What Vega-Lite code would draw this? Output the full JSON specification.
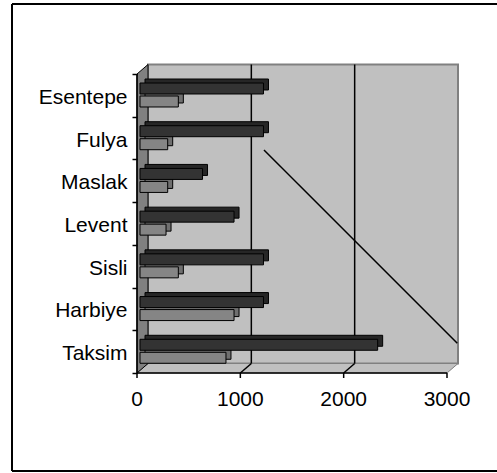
{
  "$schema": "https://vega.github.io/schema/vega-lite/v6.json",
  "width": 485,
  "height": 467,
  "autosize": {"type": "none"},
  "padding": {"left": 12, "top": 4, "right": 0, "bottom": 2},
  "background": "white",
  "config": {
    "view": {"stroke": null},
    "axis": {"labelFont": "Liberation Sans", "labelFontSize": 21, "labelColor": "black", "tickColor": "black", "grid": false, "title": null}
  },
  "datasets": {
    "sites": [
      {"site": "Esentepe", "seri1": 1195, "seri2": 371},
      {"site": "Fulya", "seri1": 1195, "seri2": 268},
      {"site": "Maslak", "seri1": 605, "seri2": 268},
      {"site": "Levent", "seri1": 910, "seri2": 252},
      {"site": "Sisli", "seri1": 1195, "seri2": 371},
      {"site": "Harbiye", "seri1": 1195, "seri2": 910},
      {"site": "Taksim", "seri1": 2300, "seri2": 832}
    ],
    "grid": [{"v": 1000}, {"v": 2000}],
    "xticks": [{"v": 0}, {"v": 1000}, {"v": 2000}, {"v": 3000}],
    "leftwall": [{"x": 0, "yb": 0, "yt": 7}, {"x": 106.45, "yb": 0.2224, "yt": 7.2224}],
    "floor": [{"y": 0, "xl": 0, "xr": 3000}, {"y": 0.2224, "xl": 106.45, "xr": 3106.45}]
  },
  "resolve": {"scale": {"y": "independent"}},
  "layer": [
    {
      "data": {"values": [{}]},
      "mark": {"type": "rect", "fill": "#c0c0c0", "stroke": "#808080", "strokeWidth": 2},
      "encoding": {
        "x": {"datum": 106.45, "type": "quantitative", "scale": {"domain": [-1209.7, 3483.9], "nice": false, "zero": false}, "axis": null},
        "x2": {"datum": 3106.45},
        "y": {"datum": 0.2224, "type": "quantitative", "scale": {"domain": [-2.294, 8.639], "nice": false, "zero": false}, "axis": null},
        "y2": {"datum": 7.2224}
      }
    },
    {
      "data": {"name": "floor"},
      "mark": {"type": "area", "orient": "horizontal", "fill": "#c0c0c0", "stroke": "#808080", "strokeWidth": 1},
      "encoding": {
        "y": {"field": "y", "type": "quantitative", "scale": {"domain": [-2.294, 8.639], "nice": false, "zero": false}, "axis": null},
        "x": {"field": "xl", "type": "quantitative", "scale": {"domain": [-1209.7, 3483.9], "nice": false, "zero": false}, "axis": null},
        "x2": {"field": "xr"}
      }
    },
    {
      "data": {"name": "leftwall"},
      "mark": {"type": "area", "orient": "vertical", "fill": "#808080", "stroke": "black", "strokeWidth": 1},
      "encoding": {
        "x": {"field": "x", "type": "quantitative", "scale": {"domain": [-1209.7, 3483.9], "nice": false, "zero": false}, "axis": null},
        "y": {"field": "yb", "type": "quantitative", "scale": {"domain": [-2.294, 8.639], "nice": false, "zero": false}, "axis": null},
        "y2": {"field": "yt"}
      }
    },
    {
      "data": {"name": "grid"},
      "mark": {"type": "rule", "color": "black", "strokeWidth": 1.5, "xOffset": 11},
      "encoding": {
        "x": {"field": "v", "type": "quantitative", "scale": {"domain": [-1209.7, 3483.9], "nice": false, "zero": false}, "axis": null},
        "y": {"datum": 0.2224, "type": "quantitative", "scale": {"domain": [-2.294, 8.639], "nice": false, "zero": false}, "axis": null},
        "y2": {"datum": 7.2224}
      }
    },
    {
      "data": {"name": "grid"},
      "mark": {"type": "rule", "color": "black", "strokeWidth": 1.5, "x2Offset": 11},
      "encoding": {
        "x": {"field": "v", "type": "quantitative", "scale": {"domain": [-1209.7, 3483.9], "nice": false, "zero": false}, "axis": null},
        "x2": {"field": "v"},
        "y": {"datum": 0, "type": "quantitative", "scale": {"domain": [-2.294, 8.639], "nice": false, "zero": false}, "axis": null},
        "y2": {"datum": 0.2224}
      }
    },
    {
      "data": {"values": [{}]},
      "mark": {"type": "rule", "color": "black", "strokeWidth": 1.5},
      "encoding": {
        "x": {"datum": 0, "type": "quantitative", "scale": {"domain": [-1209.7, 3483.9], "nice": false, "zero": false}, "axis": null},
        "y": {"datum": 0, "type": "quantitative", "scale": {"domain": [-2.294, 8.639], "nice": false, "zero": false}, "axis": null},
        "y2": {"datum": 7}
      }
    },
    {
      "data": {"values": [{}]},
      "mark": {"type": "rule", "color": "black", "strokeWidth": 1.5},
      "encoding": {
        "x": {"datum": 0, "type": "quantitative", "scale": {"domain": [-1209.7, 3483.9], "nice": false, "zero": false}, "axis": null},
        "x2": {"datum": 3000},
        "y": {"datum": 0, "type": "quantitative", "scale": {"domain": [-2.294, 8.639], "nice": false, "zero": false}, "axis": null}
      }
    },
    {
      "data": {"name": "xticks"},
      "mark": {"type": "rule", "color": "black", "strokeWidth": 1.5, "y2Offset": 5},
      "encoding": {
        "x": {"field": "v", "type": "quantitative", "scale": {"domain": [-1209.7, 3483.9], "nice": false, "zero": false}, "axis": null},
        "y": {"datum": 0, "type": "quantitative", "scale": {"domain": [-2.294, 8.639], "nice": false, "zero": false}, "axis": null},
        "y2": {"datum": 0}
      }
    },
    {
      "data": {"name": "xticks"},
      "mark": {"type": "text", "font": "Liberation Sans", "fontSize": 21, "color": "black", "align": "center", "baseline": "alphabetic", "yOffset": 33},
      "encoding": {
        "x": {"field": "v", "type": "quantitative", "scale": {"domain": [-1209.7, 3483.9], "nice": false, "zero": false}, "axis": null},
        "y": {"datum": 0, "type": "quantitative", "scale": {"domain": [-2.294, 8.639], "nice": false, "zero": false}, "axis": null},
        "text": {"field": "v", "type": "quantitative", "format": "d"}
      }
    },
    {
      "data": {"name": "sites"},
      "mark": {"type": "point", "opacity": 0},
      "encoding": {
        "y": {"field": "site", "type": "nominal", "sort": null,
              "scale": {"type": "band", "paddingInner": 0, "paddingOuter": 0, "range": [70, 369]},
              "axis": {"orient": "left", "offset": -125, "domain": false, "tickBand": "extent", "tickSize": 5, "tickWidth": 1.5, "labelPadding": 5, "labelOffset": 2, "zindex": 1}},
        "x": {"field": "seri1", "type": "quantitative", "scale": {"domain": [-1209.7, 3483.9], "nice": false, "zero": false}, "axis": null}
      }
    },
    {
      "data": {"name": "sites"},
      "mark": {"type": "bar", "fill": "#6f6f6f", "stroke": "black", "strokeWidth": 1, "xOffset": 8, "x2Offset": 8, "yOffset": -4, "y2Offset": -4},
      "encoding": {
        "y": {"field": "site", "type": "nominal", "sort": null, "scale": {"type": "band", "paddingInner": 0.7425, "paddingOuter": 0, "range": [92, 359.28]}, "axis": null},
        "x": {"field": "seri2", "type": "quantitative", "scale": {"domain": [-1209.7, 3483.9], "nice": false, "zero": false}, "axis": null},
        "x2": {"datum": 0}
      }
    },
    {
      "data": {"name": "sites"},
      "mark": {"type": "bar", "fill": "#858585", "stroke": "black", "strokeWidth": 1, "xOffset": 3, "x2Offset": 3},
      "encoding": {
        "y": {"field": "site", "type": "nominal", "sort": null, "scale": {"type": "band", "paddingInner": 0.7425, "paddingOuter": 0, "range": [92, 359.28]}, "axis": null},
        "x": {"field": "seri2", "type": "quantitative", "scale": {"domain": [-1209.7, 3483.9], "nice": false, "zero": false}, "axis": null},
        "x2": {"datum": 0}
      }
    },
    {
      "data": {"name": "sites"},
      "mark": {"type": "bar", "fill": "#262626", "stroke": "black", "strokeWidth": 1, "xOffset": 8, "x2Offset": 8, "yOffset": -4, "y2Offset": -4},
      "encoding": {
        "y": {"field": "site", "type": "nominal", "sort": null, "scale": {"type": "band", "paddingInner": 0.7425, "paddingOuter": 0, "range": [79, 346.28]}, "axis": null},
        "x": {"field": "seri1", "type": "quantitative", "scale": {"domain": [-1209.7, 3483.9], "nice": false, "zero": false}, "axis": null},
        "x2": {"datum": 0}
      }
    },
    {
      "data": {"name": "sites"},
      "mark": {"type": "bar", "fill": "#333333", "stroke": "black", "strokeWidth": 1, "xOffset": 3, "x2Offset": 3},
      "encoding": {
        "y": {"field": "site", "type": "nominal", "sort": null, "scale": {"type": "band", "paddingInner": 0.7425, "paddingOuter": 0, "range": [79, 346.28]}, "axis": null},
        "x": {"field": "seri1", "type": "quantitative", "scale": {"domain": [-1209.7, 3483.9], "nice": false, "zero": false}, "axis": null},
        "x2": {"datum": 0}
      }
    },
    {
      "data": {"values": [{}]},
      "mark": {"type": "rule", "color": "black", "strokeWidth": 1.5},
      "encoding": {
        "x": {"datum": 1229, "type": "quantitative", "scale": {"domain": [-1209.7, 3483.9], "nice": false, "zero": false}, "axis": null},
        "x2": {"datum": 3099.7},
        "y": {"datum": 5.221, "type": "quantitative", "scale": {"domain": [-2.294, 8.639], "nice": false, "zero": false}, "axis": null},
        "y2": {"datum": 0.695}
      }
    },
    {
      "data": {"values": [{}]},
      "mark": {"type": "rule", "color": "black", "strokeWidth": 2},
      "encoding": {
        "x": {"datum": -1209.7, "type": "quantitative", "scale": {"domain": [-1209.7, 3483.9], "nice": false, "zero": false}, "axis": null},
        "y": {"datum": -2.294, "type": "quantitative", "scale": {"domain": [-2.294, 8.639], "nice": false, "zero": false}, "axis": null},
        "y2": {"datum": 8.639}
      }
    },
    {
      "data": {"values": [{}]},
      "mark": {"type": "rule", "color": "black", "strokeWidth": 2},
      "encoding": {
        "x": {"datum": -1209.7, "type": "quantitative", "scale": {"domain": [-1209.7, 3483.9], "nice": false, "zero": false}, "axis": null},
        "x2": {"datum": 3483.9},
        "y": {"datum": 8.639, "type": "quantitative", "scale": {"domain": [-2.294, 8.639], "nice": false, "zero": false}, "axis": null}
      }
    },
    {
      "data": {"values": [{}]},
      "mark": {"type": "rule", "color": "black", "strokeWidth": 2},
      "encoding": {
        "x": {"datum": -1209.7, "type": "quantitative", "scale": {"domain": [-1209.7, 3483.9], "nice": false, "zero": false}, "axis": null},
        "x2": {"datum": 3483.9},
        "y": {"datum": -2.294, "type": "quantitative", "scale": {"domain": [-2.294, 8.639], "nice": false, "zero": false}, "axis": null}
      }
    }
  ]
}
